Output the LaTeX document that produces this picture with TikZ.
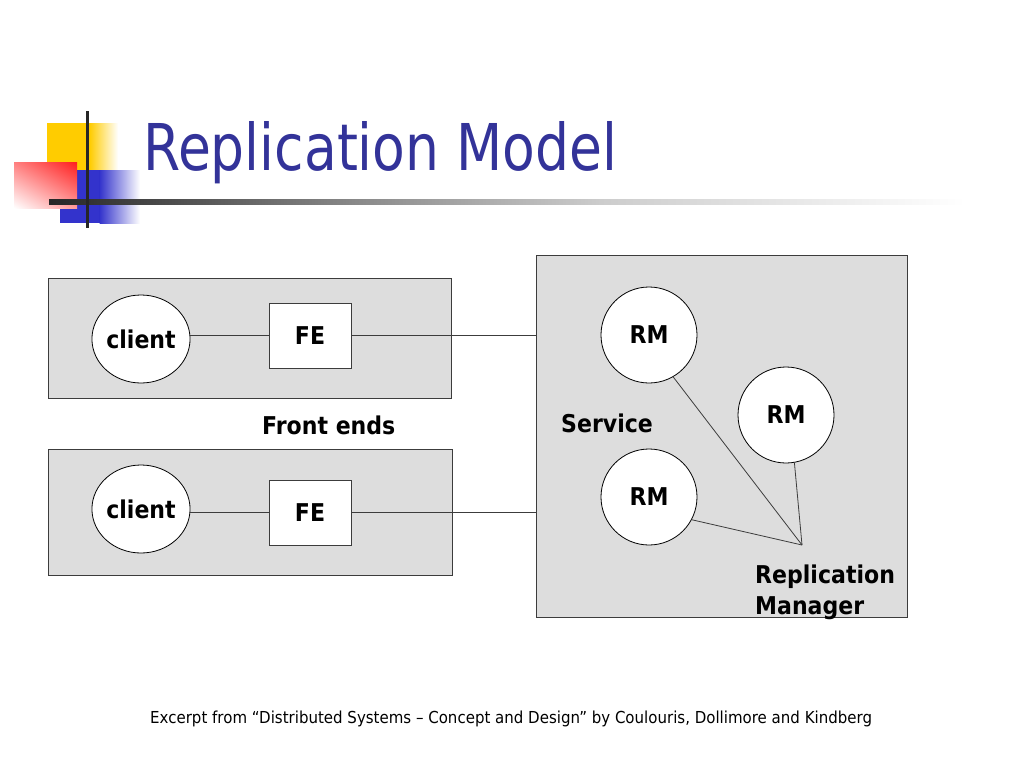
\documentclass[tikz,border=0pt]{standalone}
\usepackage{fontspec}
\setmainfont{DejaVu Sans}
\newfontfamily\titlefont{DejaVu Sans}[FakeStretch=0.83]
\newfontfamily\lblfont{DejaVu Sans}[FakeStretch=0.9]
\newfontfamily\footfont{DejaVu Sans}[FakeStretch=0.91]
\usetikzlibrary{shapes.geometric,shadings}
\definecolor{titleblue}{RGB}{51,51,153}
\definecolor{boxgray}{RGB}{221,221,221}
\definecolor{logoyellow}{RGB}{255,204,0}
\definecolor{logored}{RGB}{255,30,30}
\definecolor{logoblue}{RGB}{51,51,204}
\definecolor{linegray}{RGB}{60,60,60}
\tikzset{
  panel/.style={rectangle, draw=linegray, fill=boxgray, line width=0.9pt, inner sep=0},
  clientell/.style={ellipse, draw=black, fill=white, line width=0.8pt, minimum width=96, minimum height=88, inner sep=0, font=\lblfont\bfseries\fontsize{24.5}{29}\selectfont},
  febox/.style={rectangle, draw=linegray, fill=white, line width=0.9pt, minimum width=82, minimum height=65, inner sep=0, font=\lblfont\bfseries\fontsize{24.5}{29}\selectfont},
  rmcirc/.style={circle, draw=black, fill=white, line width=0.8pt, minimum size=96, inner sep=0, font=\lblfont\bfseries\fontsize{24.5}{29}\selectfont},
  lbl/.style={inner sep=0, anchor=base west, font=\lblfont\bfseries\fontsize{24.5}{29}\selectfont},
  conn/.style={draw=linegray, line width=0.8pt}
}
\begin{document}
\begin{tikzpicture}[x=1pt,y=-1pt]
\useasboundingbox (0,0) rectangle (1024,768);
% logo
\fill[logoyellow] (47,123) rectangle (90,170);
\shade[left color=logoyellow, right color=white] (89.5,123) rectangle (118,170);
\fill[logoblue] (60,170) rectangle (100,223);
\shade[left color=logoblue, right color=white] (99.5,170) rectangle (140,223);
\shade[upper right=logored, upper left=red!50!white, lower right=red!40!white, lower left=white] (14,162) rectangle (77,208);
\shade[left color=black!85, right color=black!47] (49,199) rectangle (350.5,204);
\shade[left color=black!47, right color=black!20] (350,199) rectangle (600.5,204);
\shade[left color=black!20, right color=white] (600,199) rectangle (965,204);
\fill[black!85] (85.5,111) rectangle (88.5,228);
% title
\node[anchor=base west, inner sep=0, text=titleblue, font=\titlefont\fontsize{64.5}{70}\selectfont] (title) at (143,170) {Replication Model};
% panels
\node[panel, minimum width=403, minimum height=120] (fb1) at (249.5,338) {};
\node[panel, minimum width=404, minimum height=126] (fb2) at (250,512) {};
\node[panel, minimum width=371, minimum height=362] (svc) at (721.5,436) {};
% front ends
\node[clientell] (c1) at (141,339) {client};
\node[febox] (fe1) at (310,335.5) {FE};
\node[clientell] (c2) at (141,509) {client};
\node[febox] (fe2) at (310,512.5) {FE};
\draw[conn] (fe1.west) -- (fe1.west -| c1.east);
\draw[conn] (fe1.east) -- (fe1.east -| svc.west);
\draw[conn] (fe2.west) -- (fe2.west -| c2.east);
\draw[conn] (fe2.east) -- (fe2.east -| svc.west);
\node[lbl] (fends) at (262,434) {Front ends};
% service
\node[rmcirc] (rm1) at (649,335) {RM};
\node[rmcirc] (rm2) at (786,415) {RM};
\node[rmcirc] (rm3) at (649,497) {RM};
\coordinate (mgr) at (802,545);
\draw[conn] (rm1.-60) -- (mgr);
\draw[conn] (rm2.-80) -- (mgr);
\draw[conn] (rm3.-28) -- (mgr);
\node[lbl] (service) at (561,432) {Service};
\node[lbl] (repl) at (755,583) {Replication};
\node[lbl] (manager) at (755,614) {Manager};
% footer
\node[anchor=base west, inner sep=0, font=\footfont\fontsize{16.5}{20}\selectfont] (foot) at (150,723) {Excerpt from “Distributed Systems – Concept and Design” by Coulouris, Dollimore and Kindberg};
\end{tikzpicture}
\end{document}
